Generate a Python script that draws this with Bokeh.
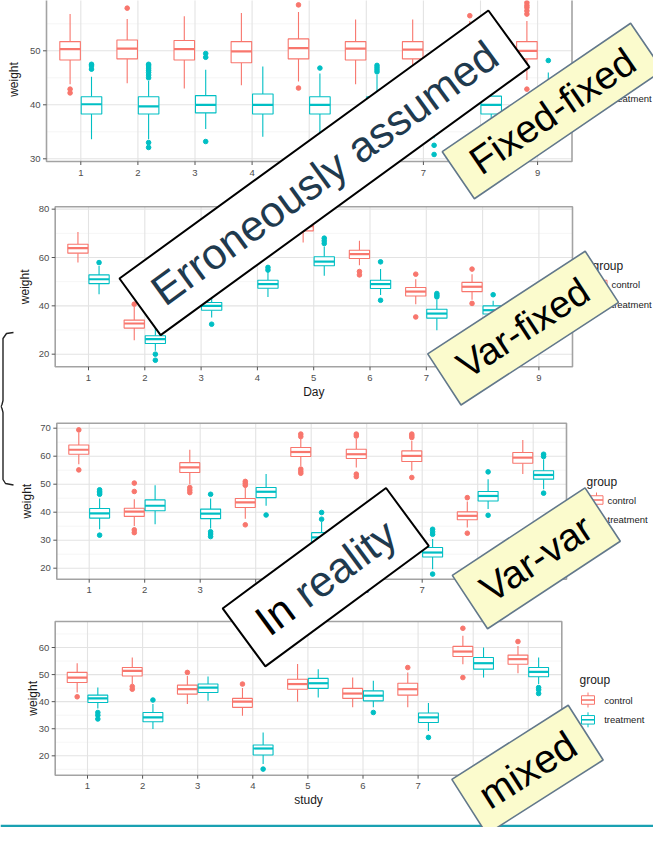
import math
from bokeh.plotting import figure
from bokeh.models import Range1d
from bokeh.embed import file_html
from bokeh.resources import INLINE
from bokeh.core.properties import value

# ---------------------------------------------------------------- data
DAYS = [1, 2, 3, 4, 5, 6, 7, 8, 9]
X_TICK_LABELS = ["1", "2", "3", "4", "5", "6", "7", "8", "9"]
GROUPS = ["control", "treatment"]

# (lower whisker, Q1, median, Q3, upper whisker) for each day / study
FIXED_FIXED_CONTROL = [
    (43.8, 48.3, 50.3, 51.7, 56.8), (44.0, 48.5, 50.4, 52.0, 55.9), (43.0, 48.3, 50.3, 51.9, 56.4),
    (43.6, 47.8, 49.9, 51.7, 57.0), (44.3, 48.5, 50.5, 52.2, 57.2), (43.8, 48.3, 50.4, 51.7, 55.8),
    (44.0, 48.5, 50.2, 51.7, 55.8), (44.2, 48.4, 50.1, 51.8, 55.5), (44.6, 48.5, 50.0, 51.7, 55.5)]
FIXED_FIXED_CONTROL_OUT = [[42.9, 42.2], [57.9], [], [], [58.5, 43.1], [], [], [56.5],
                           [58.9, 58.4, 58.0, 57.4, 56.8, 42.9]]
FIXED_FIXED_TREATMENT = [
    (33.6, 38.3, 40.1, 41.5, 45.2), (33.6, 38.3, 39.7, 41.5, 44.4), (35.5, 38.5, 40.0, 41.7, 46.5),
    (34.1, 38.3, 40.0, 42.0, 47.1), (34.5, 38.3, 40.0, 41.5, 45.8), (34.0, 38.3, 40.0, 41.5, 45.5),
    (33.8, 38.3, 39.9, 41.6, 46.0), (34.2, 38.3, 40.0, 41.6, 46.0), (34.0, 38.5, 40.1, 41.6, 46.0)]
FIXED_FIXED_TREATMENT_OUT = [[47.5, 47.2, 46.6], [47.5, 47.2, 46.8, 46.4, 46.0, 45.5, 45.0, 33.0, 32.1],
                             [49.5, 48.8, 33.2], [], [46.8], [47.3, 46.9, 46.5, 46.1], [32.5, 30.8],
                             [], [48.2]]

VAR_FIXED_CONTROL = [
    (57.9, 61.8, 63.9, 65.5, 70.6), (25.8, 30.8, 32.7, 34.1, 39.5), (42.0, 46.0, 48.0, 50.0, 54.0),
    (55.0, 59.0, 61.0, 63.0, 67.0), (66.2, 71.0, 73.0, 75.0, 79.5), (56.8, 59.6, 61.4, 63.0, 66.9),
    (40.7, 44.1, 45.9, 47.6, 51.0), (42.5, 45.9, 47.9, 49.7, 53.1), (36.0, 39.5, 41.0, 43.0, 45.5)]
VAR_FIXED_CONTROL_OUT = [[], [40.7], [], [], [], [54.2, 52.8], [53.1, 35.4], [55.2, 41.0], []]
VAR_FIXED_TREATMENT = [
    (44.8, 49.2, 51.0, 52.8, 56.5), (21.4, 24.4, 26.2, 27.6, 31.0), (35.2, 38.2, 40.0, 41.4, 45.0),
    (43.7, 47.3, 49.0, 50.6, 54.0), (52.4, 56.6, 58.3, 60.3, 64.5), (44.5, 47.2, 49.0, 50.6, 55.2),
    (29.9, 34.9, 36.8, 38.6, 42.5), (32.5, 36.6, 38.2, 40.0, 42.1), (29.0, 32.0, 34.0, 36.0, 40.0)]
VAR_FIXED_TREATMENT_OUT = [[57.9], [20.0, 17.5], [32.4], [55.9, 54.8], [68.0, 66.9, 65.8],
                           [58.2, 42.3], [45.1, 44.4, 43.7], [44.6], []]

VAR_VAR_CONTROL = [
    (57.1, 60.7, 62.3, 64.0, 68.5), (35.1, 38.5, 40.2, 41.4, 44.6), (50.0, 54.2, 56.0, 57.7, 62.3),
    (37.7, 41.7, 43.5, 44.9, 48.8), (56.5, 59.9, 61.5, 63.1, 66.1), (56.0, 59.2, 60.7, 62.5, 66.1),
    (54.8, 58.1, 60.1, 61.9, 65.5), (34.5, 37.3, 38.7, 40.1, 43.8), (53.6, 57.5, 59.5, 61.3, 65.8)]
VAR_VAR_CONTROL_OUT = [[69.4, 55.1], [50.4, 47.4, 33.7, 32.7], [48.8, 47.9, 47.0],
                       [51.0, 50.3, 49.6, 35.5], [67.9, 67.0, 55.4, 54.6, 53.9],
                       [67.9, 67.2, 53.6, 52.7], [67.9, 67.3, 66.7, 52.4], [45.2, 32.5], []]
VAR_VAR_TREATMENT = [
    (33.9, 37.9, 39.6, 41.3, 44.9), (35.7, 40.5, 42.3, 44.4, 49.6), (34.2, 37.7, 39.5, 41.1, 44.9),
    (42.3, 45.2, 47.3, 48.8, 53.6), (25.0, 29.5, 31.0, 32.7, 36.5), (29.0, 33.0, 35.0, 37.0, 41.0),
    (19.6, 24.0, 25.6, 27.4, 30.4), (41.1, 44.0, 45.8, 47.4, 51.8), (48.2, 51.8, 53.3, 54.8, 58.9)]
VAR_VAR_TREATMENT_OUT = [[48.0, 47.4, 46.9, 46.4, 31.8], [], [46.4, 33.0, 32.2, 31.3], [39.0],
                         [39.9, 37.5], [], [33.9, 33.0, 32.1, 17.9], [54.4, 38.9], [60.7, 59.9, 46.8]]

MIXED_CONTROL = [
    (43.4, 47.1, 48.9, 50.8, 54.2), (46.5, 49.5, 51.4, 52.6, 56.3), (39.1, 42.8, 44.6, 46.1, 49.5),
    (34.8, 37.9, 40.0, 41.2, 45.0), (40.0, 44.6, 46.5, 48.3, 53.9), (37.9, 41.2, 43.0, 44.9, 48.9),
    (37.9, 42.4, 44.6, 46.8, 50.8), (53.8, 56.7, 58.5, 60.4, 64.3), (50.5, 53.8, 55.7, 57.2, 60.6)]
MIXED_CONTROL_OUT = [[41.8], [45.6, 44.6], [50.8], [46.5], [], [], [52.6], [67.1, 48.9], [62.2]]
MIXED_TREATMENT = [
    (37.5, 39.7, 41.2, 42.4, 45.2), (29.9, 32.6, 34.2, 36.0, 39.1), (40.3, 43.4, 45.2, 46.5, 49.3),
    (17.0, 20.3, 22.7, 24.0, 28.6), (41.5, 44.9, 46.8, 48.6, 52.0), (37.9, 40.3, 42.2, 44.0, 47.7),
    (29.2, 32.3, 34.2, 35.8, 39.5), (48.9, 52.0, 54.2, 56.3, 60.0), (46.5, 49.2, 51.0, 52.6, 56.3)]
MIXED_TREATMENT_OUT = [[36.0, 35.0, 33.6], [40.6], [], [15.1], [], [36.0], [26.8], [], [45.2, 44.4, 43.0]]

P1_Y_TICKS = [30, 40, 50]
P1_Y_MINOR = [35, 45, 55]
P2_Y_TICKS = [20, 40, 60, 80]
P2_Y_MINOR = [30, 50, 70]
P3_Y_TICKS = [20, 30, 40, 50, 60, 70]
P3_Y_MINOR = [25, 35, 45, 55, 65]
P4_Y_TICKS = [20, 30, 40, 50, 60]
P4_Y_MINOR = [15, 25, 35, 45, 55, 65]
X_TITLES = ["Day", "Day", "Day", "study"]
Y_TITLE = "weight"
LEGEND_TITLE = "group"
NOTE_TEXTS = ["Erroneously assumed", "Fixed-fixed", "Var-fixed", "In reality", "Var-var", "mixed"]

# ---------------------------------------------------------------- styling / layout
CTRL_COLOR = "#F8766D"
TRT_COLOR = "#00BFC4"
FONT = "Liberation Sans"
DODGE = 0.1875
BOX_W = 0.36

# panel frames on the page (left, right, top, bottom) and axis calibration
PANEL_LAYOUT = [
    dict(L=54.0, R=579.5, T=5.0, B=169.0, x1=88.3, xppu=57.1, yref=50, ypx=58.3, yppu=5.4,
         ytitle_x=21, show_xtitle=False,
         leg=dict(tx=600, ty=71, kx=607, lx=619, yc=89, yt=106)),
    dict(L=62.7, R=580.0, T=214.3, B=374.3, x1=96.0, xppu=56.3, yref=60, ypx=265.0, yppu=2.417,
         ytitle_x=32, show_xtitle=True,
         leg=dict(tx=600, ty=273, kx=608, lx=619, yc=292, yt=312)),
    dict(L=64.3, R=574.0, T=430.7, B=586.7, x1=96.7, xppu=55.5, yref=70, ypx=435.7, yppu=2.8,
         ytitle_x=34, show_xtitle=False,
         leg=dict(tx=594, ty=489, kx=604, lx=615, yc=507.5, yt=527.3)),
    dict(L=62.7, R=569.3, T=629.0, B=782.7, x1=95.0, xppu=55.1, yref=60, ypx=655.0, yppu=2.708,
         ytitle_x=40, show_xtitle=True,
         leg=dict(tx=587, ty=687, kx=595.5, lx=611.7, yc=707.5, yt=727.3)),
]
PANEL_DATA = [
    (FIXED_FIXED_CONTROL, FIXED_FIXED_CONTROL_OUT, FIXED_FIXED_TREATMENT, FIXED_FIXED_TREATMENT_OUT,
     P1_Y_TICKS, P1_Y_MINOR),
    (VAR_FIXED_CONTROL, VAR_FIXED_CONTROL_OUT, VAR_FIXED_TREATMENT, VAR_FIXED_TREATMENT_OUT,
     P2_Y_TICKS, P2_Y_MINOR),
    (VAR_VAR_CONTROL, VAR_VAR_CONTROL_OUT, VAR_VAR_TREATMENT, VAR_VAR_TREATMENT_OUT,
     P3_Y_TICKS, P3_Y_MINOR),
    (MIXED_CONTROL, MIXED_CONTROL_OUT, MIXED_TREATMENT, MIXED_TREATMENT_OUT,
     P4_Y_TICKS, P4_Y_MINOR),
]

# annotation boxes: centre x, centre y, width, height, angle (deg), style, font px
NOTE_LAYOUT = [
    (332.0, 180.3, 456, 70, 36.0, "white", 43),
    (560.0, 118.5, 228, 57, 34.3, "yellow", 39),
    (530.6, 335.6, 188, 61, 33.1, "yellow", 38),
    (333.2, 584.7, 203, 72, 36.4, "white", 43),
    (543.8, 565.8, 159, 64, 33.4, "yellow", 39),
    (535.0, 777.2, 138, 65, 32.5, "yellow", 40),
]

# ---------------------------------------------------------------- figure
W, H = 653, 827
p = figure(width=W, height=H, x_range=Range1d(8, 8 + W), y_range=Range1d(8 + H, 8),
           output_backend="svg", toolbar_location=None, min_border=0,
           x_axis_type=None, y_axis_type=None)
p.outline_line_color = None
p.background_fill_color = "white"
p.border_fill_color = "white"


def draw_group(sub, stats, outs, offset, color):
    xs = [d + offset for d in DAYS]
    lo = [s[0] for s in stats]
    q1 = [s[1] for s in stats]
    med = [s[2] for s in stats]
    q3 = [s[3] for s in stats]
    hi = [s[4] for s in stats]
    sub.segment(x0=xs, y0=q3, x1=xs, y1=hi, line_color=color, line_width=1.1)
    sub.segment(x0=xs, y0=lo, x1=xs, y1=q1, line_color=color, line_width=1.1)
    sub.vbar(x=xs, width=BOX_W, bottom=q1, top=q3, fill_color="white",
             line_color=color, line_width=1.1)
    sub.segment(x0=[x - BOX_W / 2 for x in xs], y0=med, x1=[x + BOX_W / 2 for x in xs], y1=med,
                line_color=color, line_width=2.2)
    ox, oy = [], []
    for x, o in zip(xs, outs):
        ox += [x] * len(o)
        oy += list(o)
    sub.scatter(x=ox, y=oy, size=4.6, fill_color=color, line_color=color)


def draw_panel(idx):
    lay = PANEL_LAYOUT[idx]
    ctrl, ctrl_out, trt, trt_out, yt, ym = PANEL_DATA[idx]
    xmin = 1 + (lay["L"] - lay["x1"]) / lay["xppu"]
    xmax = 1 + (lay["R"] - lay["x1"]) / lay["xppu"]
    ymin = lay["yref"] - (lay["B"] - lay["ypx"]) / lay["yppu"]
    ymax = lay["yref"] - (lay["T"] - lay["ypx"]) / lay["yppu"]
    sub = p.subplot(x_source=Range1d(xmin, xmax), y_source=Range1d(ymin, ymax),
                    x_target=Range1d(lay["L"], lay["R"]), y_target=Range1d(lay["B"], lay["T"]))
    # background + grid
    sub.quad(left=[xmin], right=[xmax], bottom=[ymin], top=[ymax], fill_color="white", line_color=None)
    yminor = [v for v in ym if ymin < v < ymax]
    sub.segment(x0=[xmin] * len(yminor), x1=[xmax] * len(yminor), y0=yminor, y1=yminor,
                line_color="#f2f2f2", line_width=0.7)
    ymaj = [v for v in yt if ymin < v < ymax]
    sub.segment(x0=[xmin] * len(ymaj), x1=[xmax] * len(ymaj), y0=ymaj, y1=ymaj,
                line_color="#e3e3e3", line_width=1.1)
    sub.segment(x0=DAYS, x1=DAYS, y0=[ymin] * 9, y1=[ymax] * 9, line_color="#e3e3e3", line_width=1.1)
    # boxes
    draw_group(sub, ctrl, ctrl_out, -DODGE, CTRL_COLOR)
    draw_group(sub, trt, trt_out, DODGE, TRT_COLOR)
    # border
    sub.quad(left=[xmin], right=[xmax], bottom=[ymin], top=[ymax], fill_color=None,
             line_color="#a3a3a3", line_width=1.6)
    # ticks
    tlx = 3.5 / lay["xppu"]
    tly = 3.5 / lay["yppu"]
    sub.segment(x0=[xmin - tlx] * len(yt), x1=[xmin] * len(yt), y0=yt, y1=yt,
                line_color="#555555", line_width=1)
    sub.segment(x0=DAYS, x1=DAYS, y0=[ymin] * 9, y1=[ymin - tly] * 9, line_color="#555555", line_width=1)
    sub.text(x=[xmin] * len(yt), y=yt, text=[str(v) for v in yt], x_offset=-6,
             text_align="right", text_baseline="middle", text_font=value(FONT),
             text_font_size="9.5px", text_color="#4d4d4d")
    sub.text(x=DAYS, y=[ymin] * 9, text=X_TICK_LABELS, y_offset=11,
             text_align="center", text_baseline="middle", text_font=value(FONT),
             text_font_size="9.5px", text_color="#4d4d4d")
    if lay["show_xtitle"]:
        sub.text(x=[(xmin + xmax) / 2], y=[ymin], text=[X_TITLES[idx]], y_offset=25,
                 text_align="center", text_baseline="middle", text_font=value(FONT),
                 text_font_size="12px", text_color="#1a1a1a")
    sub.text(x=[xmin], y=[(ymin + ymax) / 2], text=[Y_TITLE], x_offset=lay["ytitle_x"] - lay["L"],
             angle=math.pi / 2, text_align="center", text_baseline="middle",
             text_font=value(FONT), text_font_size="12px", text_color="#1a1a1a")
    # legend (ggplot style, drawn in page coordinates)
    lg = lay["leg"]
    p.text(x=[lg["tx"]], y=[lg["ty"]], text=[LEGEND_TITLE], text_align="left",
           text_baseline="middle", text_font=value(FONT), text_font_size="12px", text_color="#1a1a1a")
    for gy, col, lab in ((lg["yc"], CTRL_COLOR, GROUPS[0]), (lg["yt"], TRT_COLOR, GROUPS[1])):
        p.segment(x0=[lg["kx"]], x1=[lg["kx"]], y0=[gy - 7.5], y1=[gy + 7.5], line_color=col, line_width=1)
        p.rect(x=[lg["kx"]], y=[gy], width=13, height=8.5, width_units="screen", height_units="screen",
               fill_color="white", line_color=col, line_width=1)
        p.segment(x0=[lg["kx"] - 6.5], x1=[lg["kx"] + 6.5], y0=[gy], y1=[gy], line_color=col, line_width=1.6)
        p.text(x=[lg["lx"]], y=[gy], text=[lab], text_align="left", text_baseline="middle",
               text_font=value(FONT), text_font_size="9.5px", text_color="#1a1a1a")


for i in range(4):
    draw_panel(i)

# curly bracket on the left and the teal rule at the bottom
p.line(x=[21, 14, 10.5, 10.5, 9.5, 8.5, 9.5, 10.5, 10.5, 13, 21],
       y=[340, 341, 346, 408, 412, 414, 416, 420, 487, 491, 492.5],
       line_color="#222222", line_width=1.4)
p.segment(x0=[8], x1=[8 + W], y0=[833.5], y1=[833.5], line_color="#1aa1b2", line_width=2.5)

# annotation boxes
for txt, (cx, cy, bw, bh, ang, style, fs) in zip(NOTE_TEXTS, NOTE_LAYOUT):
    a = math.radians(ang)
    if style == "white":
        p.rect(x=[cx], y=[cy], width=bw, height=bh, angle=a, width_units="screen",
               height_units="screen", fill_color="white", line_color="black", line_width=2)
    else:
        p.rect(x=[cx], y=[cy], width=bw, height=bh, angle=a, width_units="screen",
               height_units="screen", fill_color="#fbfbcd", line_color="#62788b", line_width=1.6)
    if txt == "In reality":
        first, rest = "In ", "reality"
        w_first = 1.112 * fs
        w_total = 3.78 * fs
        ux, uy = math.cos(a), -math.sin(a)
        sx = cx - ux * w_total / 2
        sy = cy - uy * w_total / 2
        p.text(x=[sx], y=[sy], text=[first], angle=a, text_align="left", text_baseline="middle",
               text_font=value(FONT), text_font_size=f"{fs}px", text_color="#000000")
        p.text(x=[sx + ux * w_first], y=[sy + uy * w_first], text=[rest], angle=a, text_align="left",
               text_baseline="middle", text_font=value(FONT), text_font_size=f"{fs}px",
               text_color="#1f3a4e")
    else:
        color = "#1f3a4e" if style == "white" else "#000000"
        p.text(x=[cx], y=[cy], text=[txt], angle=a, text_align="center", text_baseline="middle",
               text_font=value(FONT), text_font_size=f"{fs}px", text_color=color)

open("out.html", "w").write(file_html(p, INLINE))
